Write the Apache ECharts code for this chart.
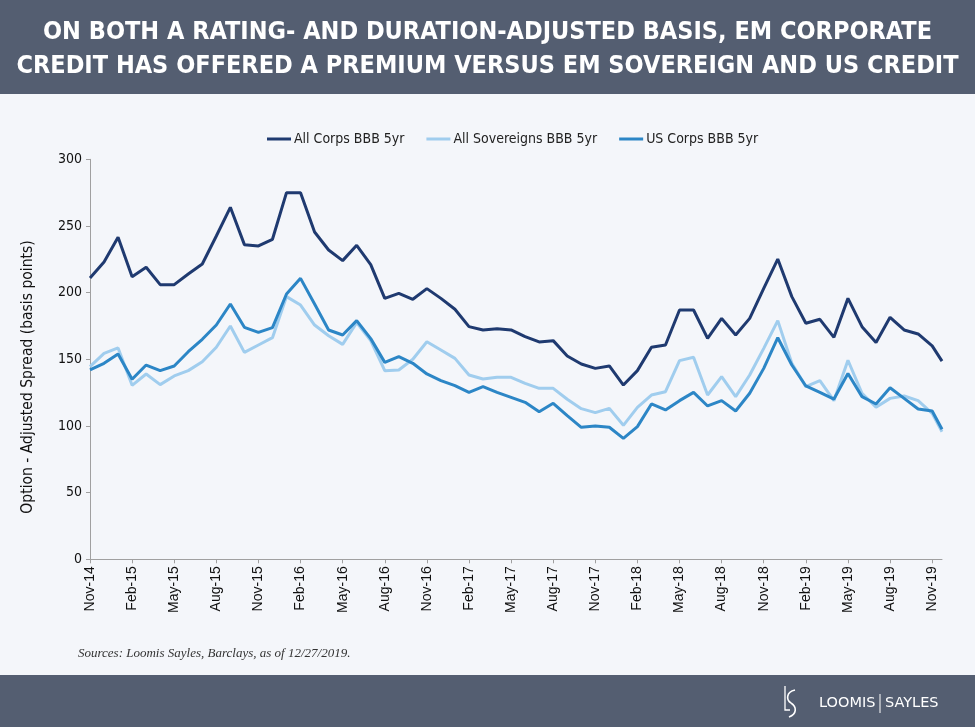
<!DOCTYPE html>
<html>
<head>
<meta charset="utf-8">
<script src="https://cdn.jsdelivr.net/npm/echarts@6/dist/echarts.min.js"></script>
<style>
html,body{margin:0;padding:0;background:#f4f6fa;}
#chart{width:975px;height:727px;}
</style>
</head>
<body>
<div id="chart"></div>
<script>
// Tick labels every 3 months (Nov-14 ... Nov-19)
const tickLabels = ['Nov-14','Feb-15','May-15','Aug-15','Nov-15','Feb-16','May-16','Aug-16','Nov-16','Feb-17','May-17','Aug-17','Nov-17','Feb-18','May-18','Aug-18','Nov-18','Feb-19','May-19','Aug-19','Nov-19'];
// Months elapsed since Nov-14 for each observation (last obs = 12/27/2019)
const obsMonths = [0,1,2,3,4,5,6,7,8,9,10,11,12,13,14,15,16,17,18,19,20,21,22,23,24,25,26,27,28,29,30,31,32,33,34,35,36,37,38,39,40,41,42,43,44,45,46,47,48,49,50,51,52,53,54,55,56,57,58,59,60,60.7];

const allCorps = [211,223,241.5,212,219,206,206,214,221.5,242.5,264,236,235,240,275,275,245.5,232,224,235.5,221,195.7,199.5,195,203,195.7,187.5,174.5,172,173,172,167,163,164,152.5,146.5,143.2,145,130.7,141.5,159,160.7,187,187,165.7,180.7,168.2,180.7,203.2,225.2,197,177,180,166.5,195.7,174.5,162.6,181.5,172,169,160.1,148.6];
const allSovs = [144.5,154.5,158.5,130.5,139,131,137.5,141.5,148.2,159,175,155.2,160.7,166.2,197,190.7,175.7,167.7,161.2,177.5,164,141.5,142,150,163.2,157,150.7,138.2,135.2,136.5,136.5,132,128.2,128.2,120,113,110,113.2,100.5,114,123.2,125.7,149,151.5,123.2,137,122,138.2,158.2,179,147,129.5,134,119,149.3,124.5,114,120.7,122.5,119,109.5,95.7];
const usCorps = [142,147,154,135,145.7,141.5,145,155.7,165,175.7,191.5,174,170.2,173.7,199,210.7,191.5,172,168.2,179,165.5,147.7,152,147,139,134,130.2,125.2,129.5,125.2,121.5,117.7,110.7,117,107.7,99,100,99,90.7,99.5,116.5,112,119,125.2,115,119,111.2,124.5,143.2,166.2,145.7,130,125.2,120.2,139.3,122,116.5,128.7,120.7,112.7,111.2,97.5];

const seriesNames = ['All Corps BBB 5yr','All Sovereigns BBB 5yr','US Corps BBB 5yr'];
const colors = ['#1f3a70','#a0cdee','#2c86c6'];
const titleText = 'ON BOTH A RATING- AND DURATION-ADJUSTED BASIS, EM CORPORATE\nCREDIT HAS OFFERED A PREMIUM VERSUS EM SOVEREIGN AND US CREDIT';
const yTitle = 'Option - Adjusted Spread (basis points)';

function pair(vals){ return vals.map((v,i)=>[obsMonths[i], v]); }

const chart = echarts.init(document.getElementById('chart'));
const option = {
  backgroundColor: '#f4f6fa',
  animation: false,
  graphic: [
    {type:'rect', z:-1, shape:{x:0,y:0,width:975,height:94}, style:{fill:'#545e71'}},
    {type:'text', x:487.5, y:49, style:{text:titleText, fill:'#ffffff', font:'bold 25px "DejaVu Sans Condensed"', lineHeight:34, align:'center', verticalAlign:'middle'}},
    {type:'rect', z:-1, shape:{x:0,y:675,width:975,height:52}, style:{fill:'#545e71'}},
    {type:'text', x:28, y:377, rotation:Math.PI/2, style:{text:yTitle, fill:'#111', font:'15.5px "DejaVu Sans Condensed"', align:'center', verticalAlign:'middle'}},
    {type:'text', x:78, y:654, style:{text:'Sources: Loomis Sayles, Barclays, as of 12/27/2019.', fill:'#333', font:'italic 13px "Liberation Serif"', verticalAlign:'middle'}},
    {type:'polyline', shape:{points:[[785,686],[785,710],[790,710]]}, style:{stroke:'#fff', lineWidth:1.3, fill:null}},
    {type:'bezierCurve', shape:{x1:795,y1:690,cpx1:786,cpy1:692,cpx2:786,cpy2:700,x2:791,y2:703}, style:{stroke:'#fff', lineWidth:1.6, fill:null}},
    {type:'bezierCurve', shape:{x1:791,y1:703,cpx1:797,cpy1:707,cpx2:797,cpy2:714,x2:789,y2:717}, style:{stroke:'#fff', lineWidth:1.6, fill:null}},
    {type:'text', x:819, y:703, style:{text:'LOOMIS', fill:'#fff', font:'14.5px "DejaVu Sans"', verticalAlign:'middle'}},
    {type:'line', shape:{x1:880,y1:694,x2:880,y2:713}, style:{stroke:'#fff', lineWidth:1}},
    {type:'text', x:885, y:703, style:{text:'SAYLES', fill:'#fff', font:'14.5px "DejaVu Sans"', verticalAlign:'middle'}}
  ],
  legend: {
    top: 127, left: 262,
    itemWidth: 24, itemHeight: 3, itemGap: 22,
    icon: 'rect',
    textStyle: {fontFamily:'DejaVu Sans Condensed', fontSize:14, color:'#222', padding:[0,0,0,-2]},
    data: seriesNames
  },
  grid: {left:90, right:33, top:159.3, bottom:167.7},
  xAxis: {
    type:'value', min:0, max:60.7, interval:3,
    axisLine:{show:true, lineStyle:{color:'#a0a0a0'}},
    axisTick:{show:true, length:4, lineStyle:{color:'#a0a0a0'}},
    splitLine:{show:false},
    axisLabel:{rotate:90, margin:7, fontFamily:'Liberation Sans', fontSize:14, color:'#111',
      formatter: v => tickLabels[Math.round(v/3)] || ''},
    showMaxLabel:false
  },
  yAxis: {
    type:'value', min:0, max:300, interval:50,
    axisLine:{show:true, lineStyle:{color:'#a0a0a0'}},
    axisTick:{show:true, length:4, lineStyle:{color:'#a0a0a0'}},
    splitLine:{show:false},
    axisLabel:{fontFamily:'DejaVu Sans Condensed', fontSize:14, color:'#111', margin:8}
  },
  series: [
    {name:seriesNames[0], type:'line', data:pair(allCorps), symbol:'none', lineStyle:{width:3, color:colors[0]}, itemStyle:{color:colors[0]}, z:3},
    {name:seriesNames[1], type:'line', data:pair(allSovs), symbol:'none', lineStyle:{width:3, color:colors[1]}, itemStyle:{color:colors[1]}, z:1},
    {name:seriesNames[2], type:'line', data:pair(usCorps), symbol:'none', lineStyle:{width:3, color:colors[2]}, itemStyle:{color:colors[2]}, z:2}
  ]
};
chart.setOption(option);
</script>
</body>
</html>
